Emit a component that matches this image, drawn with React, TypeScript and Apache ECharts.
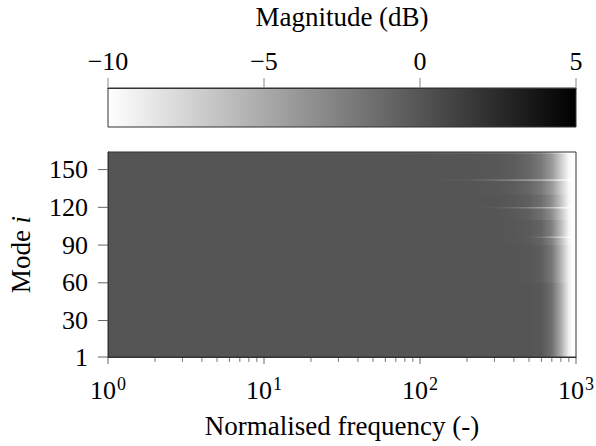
import React, { useEffect, useRef } from "react";
import * as echarts from "echarts";

// Colour scale (dB)
const colorbarMin = -10;
const colorbarMax = 5;
const colorbarTicks = [-10, -5, 0, 5];

// Frequency sample points (normalised frequency) for each mode band profile
const freqPoints = [1, 50, 100, 200, 300, 400, 500, 600, 700, 800, 900, 950, 1000];
// Magnitude (dB) at freqPoints, per group of modes
const modes1Db = [0, 0, 0, 0, 0, 0, 0, -0.2, -1.5, -5, -9, -10, -10];
const modes60Db = [0, 0, 0, 0, 0, 0, -0.1, -0.5, -2, -5.5, -9.2, -10, -10];
const modes90Db = [0, 0, 0, 0, 0, -0.1, -0.3, -0.9, -2.6, -6, -9.4, -10, -10];
const modes110Db = [0, 0, 0, 0, 0, -0.2, -0.6, -1.5, -3.3, -6.5, -9.5, -10, -10];
const modes130Db = [0, 0, 0, 0, -0.1, -0.4, -1, -2.2, -4, -7, -9.6, -10, -10];
const line96Db = [0, 0, 0, 0, 0, 0, -0.5, -2, -5, -8, -10, -10, -10];
const line120Db = [0, 0, 0, 0, -0.3, -1.3, -2.8, -4.5, -6.5, -9, -10, -10, -10];
const line142Db = [0, 0, 0, -0.3, -1.5, -2.8, -4, -5.2, -7, -9, -10, -10, -10];
const topEdgeDb = [0, -0.3, -0.6, -1, -1.4, -2, -2.7, -3.8, -6, -8.5, -10, -10, -10];

// Mode bands (drawn in order, later on top)
const bandFrom = [1, 60, 90, 110, 130, 95.6, 119, 141, 162.6];
const bandTo = [164, 164, 164, 164, 164, 96.9, 120.3, 142.4, 164];
const bandProfiles = [modes1Db, modes60Db, modes90Db, modes110Db, modes130Db, line96Db, line120Db, line142Db, topEdgeDb];

// Axes
const modeMin = 1;
const modeMax = 164;
const modeTicks = [1, 30, 60, 90, 120, 150];
const freqMin = 1;
const freqMax = 1000;
const freqMajorTicks = [1, 10, 100, 1000];
const freqMinorTicks = [2, 3, 4, 5, 6, 7, 8, 9, 20, 30, 40, 50, 60, 70, 80, 90, 200, 300, 400, 500, 600, 700, 800, 900];

const FONT = "Liberation Serif";
const FS = 26;
const FS_NAME = 27;

function dbToGray(db: number): string {
  const t = Math.min(1, Math.max(0, (db - colorbarMin) / (colorbarMax - colorbarMin)));
  const g = Math.round(255 * (1 - t));
  return `rgb(${g},${g},${g})`;
}

const txt = (extra: any = {}) => ({ fontFamily: FONT, fontSize: FS, color: "#000", ...extra });

export default function App() {
  const ref = useRef<HTMLDivElement>(null);
  useEffect(() => {
    if (!ref.current) return;
    const chart = echarts.init(ref.current, null, { renderer: "svg" });
    const tickSeries = (
      axisIdx: number,
      values: number[],
      toPoint: (v: number) => number[],
      dx: number,
      dy: number,
      color: string
    ) => ({
      type: "custom",
      xAxisIndex: axisIdx,
      yAxisIndex: axisIdx,
      z: 6,
      clip: false,
      silent: true,
      data: values.map((v) => [v]),
      renderItem: (params: any, api: any) => {
        const p = api.coord(toPoint(values[params.dataIndex]));
        return {
          type: "line",
          shape: { x1: p[0], y1: p[1], x2: p[0] + dx, y2: p[1] + dy },
          style: { stroke: color, lineWidth: 1 },
        };
      },
    });
    const option: any = {
      animation: false,
      backgroundColor: "#ffffff",
      textStyle: { fontFamily: FONT },
      grid: [
        { left: 108, right: 20, top: 152, height: 205, containLabel: false, outerBoundsMode: "none" },
        { left: 108, right: 20, top: 88, height: 39, containLabel: false, outerBoundsMode: "none" },
      ],
      xAxis: [
        {
          gridIndex: 0,
          type: "log",
          logBase: 10,
          min: freqMin,
          max: freqMax,
          z: 10,
          axisLine: { show: true, onZero: false, lineStyle: { color: "#333", width: 1 } },
          axisTick: { show: false },
          splitLine: { show: false },
          axisLabel: {
            margin: 18,
            ...txt(),
            formatter: (v: number) => `{b|10}{s|${Math.round(Math.log10(v))}}`,
            rich: {
              b: txt(),
              s: txt({ fontSize: 18, padding: [0, 0, 13, 1] }),
            },
          },
          name: "Normalised frequency (-)",
          nameLocation: "middle",
          nameGap: 55,
          nameTextStyle: txt({ fontSize: FS_NAME }),
        },
        {
          gridIndex: 1,
          type: "value",
          min: colorbarMin,
          max: colorbarMax,
          interval: 5,
          position: "top",
          z: 10,
          axisLine: { show: true, onZero: false, lineStyle: { color: "#333", width: 1 } },
          axisTick: { show: false },
          splitLine: { show: false },
          axisLabel: {
            margin: 14,
            ...txt(),
            formatter: (v: number) => String(v).replace("-", "\u2212"),
          },
          name: "Magnitude (dB)",
          nameLocation: "middle",
          nameGap: 58,
          nameTextStyle: txt({ fontSize: FS_NAME }),
        },
      ],
      yAxis: [
        {
          gridIndex: 0,
          type: "value",
          min: modeMin,
          max: modeMax,
          z: 10,
          axisLine: { show: true, onZero: false, lineStyle: { color: "#333", width: 1 } },
          axisTick: { show: false },
          splitLine: { show: false },
          axisLabel: {
            margin: 20,
            ...txt(),
            customValues: modeTicks,
          },
          name: "{n|Mode }{i|i}",
          nameLocation: "middle",
          nameRotate: 90,
          nameGap: 74,
          nameTextStyle: {
            ...txt({ fontSize: FS_NAME }),
            rich: {
              n: txt({ fontSize: FS_NAME }),
              i: txt({ fontSize: FS_NAME, fontStyle: "italic" }),
            },
          },
        },
        {
          gridIndex: 1,
          type: "value",
          min: 0,
          max: 1,
          show: false,
        },
      ],
      series: [
        {
          type: "custom",
          xAxisIndex: 0,
          yAxisIndex: 0,
          z: 2,
          data: bandFrom.map((m, i) => [freqMin, m, bandTo[i], i]),
          encode: { x: 0, y: 1 },
          renderItem: (params: any, api: any) => {
            const i = api.value(3);
            const p0 = api.coord([freqMin, bandTo[i]]);
            const p1 = api.coord([freqMax, bandFrom[i]]);
            const w = p1[0] - p0[0];
            const stops = freqPoints.map((f, k) => ({
              offset: Math.min(1, Math.max(0, (api.coord([f, bandFrom[i]])[0] - p0[0]) / w)),
              color: dbToGray(bandProfiles[i][k]),
            }));
            return {
              type: "rect",
              shape: { x: p0[0], y: p0[1], width: w, height: p1[1] - p0[1] },
              style: { fill: new echarts.graphic.LinearGradient(0, 0, 1, 0, stops) },
            };
          },
        },
        {
          type: "custom",
          xAxisIndex: 0,
          yAxisIndex: 0,
          z: 5,
          data: [[freqMin, modeMin]],
          renderItem: (params: any, api: any) => {
            const p0 = api.coord([freqMin, modeMax]);
            const p1 = api.coord([freqMax, modeMin]);
            return {
              type: "rect",
              shape: { x: p0[0], y: p0[1], width: p1[0] - p0[0], height: p1[1] - p0[1] },
              style: { fill: "none", stroke: "#333", lineWidth: 1 },
            };
          },
        },
        tickSeries(0, freqMajorTicks, (v) => [v, modeMin], 0, 7, "#666"),
        tickSeries(0, freqMinorTicks, (v) => [v, modeMin], 0, 5, "#777"),
        tickSeries(0, modeTicks, (v) => [freqMin, v], -10, 0, "#666"),
        {
          type: "custom",
          xAxisIndex: 1,
          yAxisIndex: 1,
          z: 2,
          data: [[colorbarMin, 0]],
          renderItem: (params: any, api: any) => {
            const p0 = api.coord([colorbarMin, 1]);
            const p1 = api.coord([colorbarMax, 0]);
            return {
              type: "rect",
              shape: { x: p0[0], y: p0[1], width: p1[0] - p0[0], height: p1[1] - p0[1] },
              style: {
                fill: new echarts.graphic.LinearGradient(0, 0, 1, 0, [
                  { offset: 0, color: dbToGray(colorbarMin) },
                  { offset: 1, color: dbToGray(colorbarMax) },
                ]),
                stroke: "#333",
                lineWidth: 1,
              },
            };
          },
        },
        tickSeries(1, colorbarTicks, (v) => [v, 1], 0, -10, "#888"),
      ],
    };
    chart.setOption(option);
    return () => chart.dispose();
  }, []);
  return <div ref={ref} style={{ position: "absolute", left: 0, top: 0, width: 596, height: 446 }} />;
}
